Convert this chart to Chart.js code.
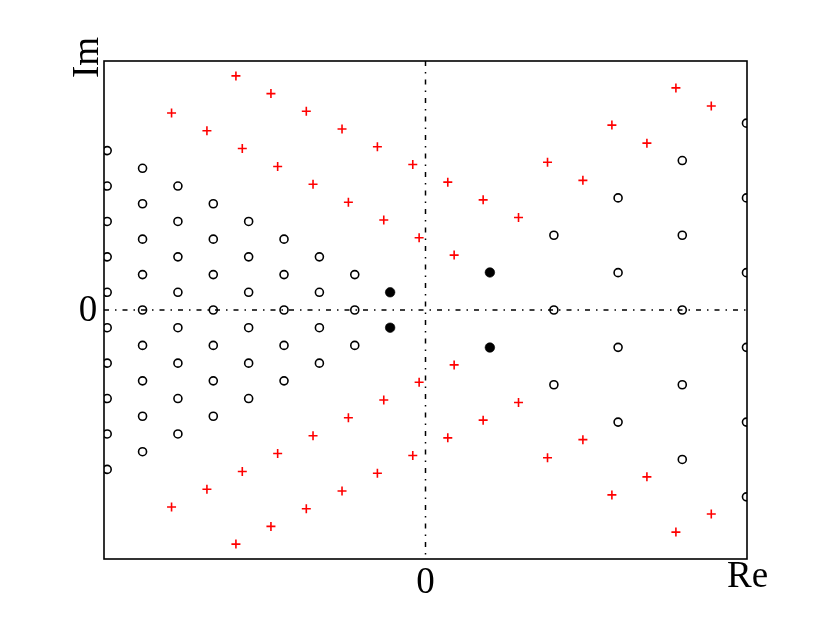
<!DOCTYPE html>
<html>
<head>
<meta charset="utf-8">
<script src="https://cdn.jsdelivr.net/npm/chart.js@4"></script>
<style>
body{margin:0;background:#fff;}
canvas{display:block;}
</style>
</head>
<body>
<canvas id="chart" width="830" height="622"></canvas>
<script>

// axis limits (Re, Im)
let xRange=[-9.09,9.09];
let yRange=[-7.03,7.03];

// open circles, left lattice
let openLeft=[
[-9,4.5],[-9,3.5],[-9,2.5],[-9,1.5],[-9,0.5],[-9,-0.5],[-9,-1.5],[-9,-2.5],[-9,-3.5],[-9,-4.5],
[-8,4],[-8,3],[-8,2],[-8,1],[-8,0],[-8,-1],[-8,-2],[-8,-3],[-8,-4],
[-7,3.5],[-7,2.5],[-7,1.5],[-7,0.5],[-7,-0.5],[-7,-1.5],[-7,-2.5],[-7,-3.5],
[-6,3],[-6,2],[-6,1],[-6,0],[-6,-1],[-6,-2],[-6,-3],
[-5,2.5],[-5,1.5],[-5,0.5],[-5,-0.5],[-5,-1.5],[-5,-2.5],
[-4,2],[-4,1],[-4,0],[-4,-1],[-4,-2],
[-3,1.5],[-3,0.5],[-3,-0.5],[-3,-1.5],
[-2,1],[-2,0],[-2,-1]
];

// open circles, right lattice
let openRight=[
[3.63,2.11],[3.63,0],[3.63,-2.11],
[5.445,3.165],[5.445,1.055],[5.445,-1.055],[5.445,-3.165],
[7.26,4.22],[7.26,2.11],[7.26,0],[7.26,-2.11],[7.26,-4.22],
[9.075,5.275],[9.075,3.165],[9.075,1.055],[9.075,-1.055],[9.075,-3.165],[9.075,-5.275]
];

// filled circles
let filled=[
[-1,0.5],[-1,-0.5],
[1.82,1.06],[1.82,-1.06]
];

// red crosses
let crosses=[
[-5.36,6.61],[-4.37,6.11],[-3.37,5.61],[-2.36,5.11],[-1.36,4.61],[-0.36,4.11],
[-7.18,5.56],[-6.18,5.06],[-5.18,4.56],[-4.18,4.05],[-3.18,3.55],[-2.18,3.04],[-1.18,2.54],[-0.18,2.04],
[0.81,1.55],[0.63,3.61],[1.63,3.11],[2.63,2.61],[3.45,4.17],[4.45,3.66],[5.27,5.22],[6.26,4.71],[7.08,6.27],[8.08,5.76],
[-5.36,-6.61],[-4.37,-6.11],[-3.37,-5.61],[-2.36,-5.11],[-1.36,-4.61],[-0.36,-4.11],
[-7.18,-5.56],[-6.18,-5.06],[-5.18,-4.56],[-4.18,-4.05],[-3.18,-3.55],[-2.18,-3.04],[-1.18,-2.54],[-0.18,-2.04],
[0.81,-1.55],[0.63,-3.61],[1.63,-3.11],[2.63,-2.61],[3.45,-4.17],[4.45,-3.66],[5.27,-5.22],[6.26,-4.71],[7.08,-6.27],[8.08,-5.76]
];

let labelFont="37px 'Liberation Serif', 'DejaVu Serif', serif";

function pts(list){
return list.map(p=>({x:p[0],y:p[1]}));
}

// zero lines, box and labels
let decor={
id:"decor",
beforeDatasetsDraw(chart){
let ctx=chart.ctx;
let a=chart.chartArea;
let x0=chart.scales.x.getPixelForValue(0);
let y0=chart.scales.y.getPixelForValue(0);
ctx.save();
ctx.strokeStyle="#000";
ctx.lineWidth=1.5;
ctx.setLineDash([5,6,1.5,6]);
ctx.beginPath();
ctx.moveTo(a.left,y0);
ctx.lineTo(a.right,y0);
ctx.moveTo(x0,a.top);
ctx.lineTo(x0,a.bottom);
ctx.stroke();
ctx.restore();
},
afterDatasetsDraw(chart){
let ctx=chart.ctx;
let a=chart.chartArea;
let x0=chart.scales.x.getPixelForValue(0);
let y0=chart.scales.y.getPixelForValue(0);
ctx.save();
ctx.strokeStyle="#000";
ctx.lineWidth=1.6;
ctx.strokeRect(a.left,a.top,a.right-a.left,a.bottom-a.top);

ctx.fillStyle="#000";
ctx.font=labelFont;
ctx.textAlign="center";
ctx.textBaseline="alphabetic";
ctx.fillText("0",x0,a.bottom+34);
ctx.fillText("Re",a.right+0.5,a.bottom+28);
ctx.fillText("0",a.left-16,y0+10.5);

ctx.translate(a.left-6.5,a.top-3.5);
ctx.rotate(-Math.PI/2);
ctx.fillText("Im",0,0);
ctx.restore();
}
};

new Chart(
document.getElementById("chart"),
{
type:"scatter",
data:{
datasets:[
{
data:pts(crosses),
pointStyle:"cross",
pointRadius:4.5,
borderColor:"#ff0000",
borderWidth:1.6,
clip:0
},
{
data:pts(openLeft.concat(openRight)),
pointStyle:"circle",
pointRadius:4,
borderColor:"#000",
backgroundColor:"rgba(0,0,0,0)",
borderWidth:1.6,
clip:0
},
{
data:pts(filled),
pointStyle:"circle",
pointRadius:4.8,
borderColor:"#000",
backgroundColor:"#000",
borderWidth:0.6,
clip:0
}
]
},
options:{
responsive:false,
animation:false,
devicePixelRatio:1,
layout:{padding:{left:104,right:83,top:61,bottom:63}},
plugins:{legend:{display:false},tooltip:{enabled:false}},
scales:{
x:{type:"linear",min:xRange[0],max:xRange[1],display:false},
y:{type:"linear",min:yRange[0],max:yRange[1],display:false}
},
elements:{point:{hoverRadius:0}}
},
plugins:[decor]
}
);

</script>
</body>
</html>
